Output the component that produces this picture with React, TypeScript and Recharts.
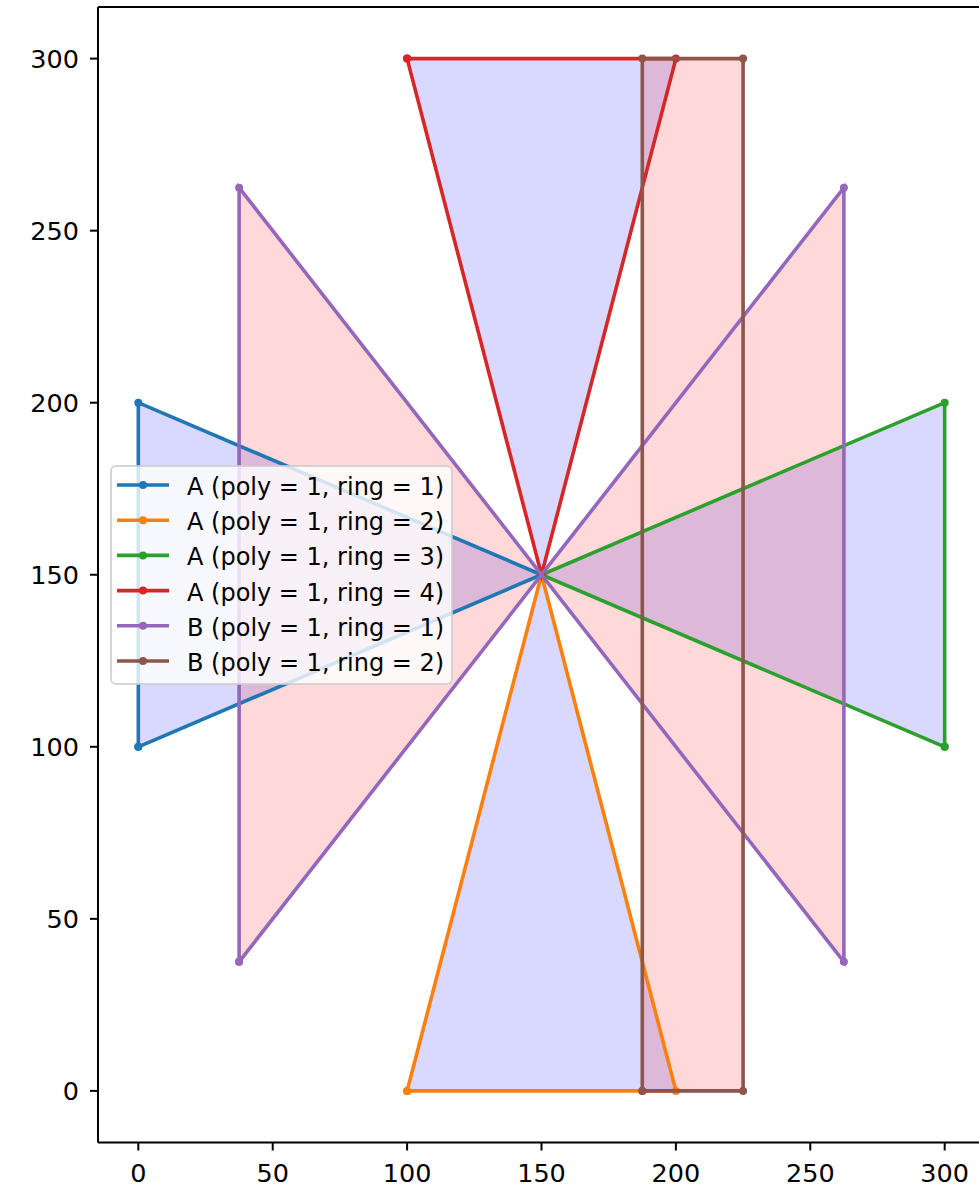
import React from 'react';
import { ComposedChart, Scatter, XAxis, YAxis, ReferenceLine, Legend } from 'recharts';

const X_DOMAIN: [number, number] = [-15, 315];
const Y_DOMAIN: [number, number] = [-15, 315];
const X_TICKS = [0, 50, 100, 150, 200, 250, 300];
const Y_TICKS = [0, 50, 100, 150, 200, 250, 300];

type Pt = { x: number; y: number };

const A_RING_1: Pt[] = [{ x: 0, y: 100 }, { x: 0, y: 200 }, { x: 150, y: 150 }];
const A_RING_2: Pt[] = [{ x: 100, y: 0 }, { x: 200, y: 0 }, { x: 150, y: 150 }];
const A_RING_3: Pt[] = [{ x: 300, y: 100 }, { x: 300, y: 200 }, { x: 150, y: 150 }];
const A_RING_4: Pt[] = [{ x: 100, y: 300 }, { x: 200, y: 300 }, { x: 150, y: 150 }];
const B_RING_1: Pt[] = [{ x: 37.5, y: 37.5 }, { x: 37.5, y: 262.5 }, { x: 262.5, y: 37.5 }, { x: 262.5, y: 262.5 }];
const B_RING_2: Pt[] = [{ x: 187.5, y: 0 }, { x: 225, y: 0 }, { x: 225, y: 300 }, { x: 187.5, y: 300 }];

const SERIES_NAMES = [
  'A (poly = 1, ring = 1)',
  'A (poly = 1, ring = 2)',
  'A (poly = 1, ring = 3)',
  'A (poly = 1, ring = 4)',
  'B (poly = 1, ring = 1)',
  'B (poly = 1, ring = 2)',
];
const SERIES_COLORS = ['#1f77b4', '#ff7f0e', '#2ca02c', '#d62728', '#9467bd', '#8c564b'];
const SERIES_RINGS = [A_RING_1, A_RING_2, A_RING_3, A_RING_4, B_RING_1, B_RING_2];

const A_RINGS = [A_RING_1, A_RING_2, A_RING_3, A_RING_4];
const B_RINGS = [B_RING_1, B_RING_2];
const A_FILL = '#0000ff';
const B_FILL = '#ff0000';

const FONT = 'DejaVu Sans';
const LINE_W = 3.6;
const DOT_R = 4;

const closeRing = (r: Pt[]) => [...r, r[0]];

function ringFill(rings: Pt[][], color: string) {
  const lens = rings.map((r) => r.length);
  return (props: any) => {
    const pts: { x: number; y: number }[] = props.points || [];
    let d = '';
    let i = 0;
    lens.forEach((n) => {
      const seg = pts.slice(i, i + n);
      i += n;
      if (seg.length) d += 'M' + seg.map((p) => `${p.x},${p.y}`).join('L') + 'Z';
    });
    return <path d={d} fill={color} fillOpacity={0.15} stroke="none" fillRule="nonzero" />;
  };
}

const emptyShape = () => <g />;
const dotShape = (color: string) => (p: any) => <circle cx={p.cx} cy={p.cy} r={DOT_R} fill={color} />;

function LegendBox() {
  const w = 343;
  const h = 220;
  return (
    <svg width={w} height={h} style={{ display: 'block', overflow: 'visible' }}>
      <rect x={1} y={1} width={w - 2} height={h - 2} rx={5} ry={5} fill="#ffffff" fillOpacity={0.8} stroke="#cccccc" strokeOpacity={0.8} strokeWidth={2} />
      {SERIES_NAMES.map((name, i) => {
        const cy = 20 + 35.2 * i;
        return (
          <g key={name}>
            <line x1={7} x2={59} y1={cy} y2={cy} stroke={SERIES_COLORS[i]} strokeWidth={LINE_W} />
            <circle cx={33} cy={cy} r={DOT_R} fill={SERIES_COLORS[i]} />
            <text x={77} y={cy + 10} fontFamily={FONT} fontSize={24} fill="#000">{name}</text>
          </g>
        );
      })}
    </svg>
  );
}

export default function App() {
  const tickStyle = { fontSize: 25.5, fill: '#000', fontFamily: FONT };
  return (
    <div style={{ position: 'absolute', left: 0, top: 0, width: 979, height: 1190, overflow: 'hidden', background: '#fff' }}>
      <ComposedChart width={1000} height={1190} margin={{ top: 7, right: 15, bottom: 0, left: 0 }} style={{ fontFamily: FONT }}>
        <XAxis
          type="number"
          dataKey="x"
          domain={X_DOMAIN}
          ticks={X_TICKS}
          interval={0}
          allowDataOverflow
          height={47.5}
          tickSize={8}
          tickMargin={13}
          tick={tickStyle}
          axisLine={{ stroke: '#000', strokeWidth: 2 }}
          tickLine={{ stroke: '#000', strokeWidth: 2 }}
        />
        <YAxis
          type="number"
          dataKey="y"
          domain={Y_DOMAIN}
          ticks={Y_TICKS}
          interval={0}
          allowDataOverflow
          width={98}
          tickSize={8}
          tickMargin={11}
          tick={tickStyle}
          axisLine={{ stroke: '#000', strokeWidth: 2 }}
          tickLine={{ stroke: '#000', strokeWidth: 2 }}
        />
        <ReferenceLine y={Y_DOMAIN[1]} stroke="#000" strokeWidth={2} />
        <ReferenceLine x={X_DOMAIN[1]} stroke="#000" strokeWidth={2} />
        <Scatter
          name="A fill"
          data={A_RINGS.flat()}
          line={ringFill(A_RINGS, A_FILL)}
          lineType="joint"
          shape={emptyShape}
          legendType="none"
          isAnimationActive={false}
        />
        <Scatter
          name="B fill"
          data={B_RINGS.flat()}
          line={ringFill(B_RINGS, B_FILL)}
          lineType="joint"
          shape={emptyShape}
          legendType="none"
          isAnimationActive={false}
        />
        {SERIES_RINGS.map((ring, i) => (
          <Scatter
            key={SERIES_NAMES[i]}
            name={SERIES_NAMES[i]}
            data={closeRing(ring)}
            fill={SERIES_COLORS[i]}
            line={{ stroke: SERIES_COLORS[i], strokeWidth: LINE_W }}
            lineType="joint"
            shape={dotShape(SERIES_COLORS[i])}
            isAnimationActive={false}
          />
        ))}
        <Legend
          layout="horizontal"
          verticalAlign="middle"
          align="center"
          wrapperStyle={{ left: 110, top: 465, width: 343, height: 220 }}
          content={() => <LegendBox />}
        />
      </ComposedChart>
    </div>
  );
}
